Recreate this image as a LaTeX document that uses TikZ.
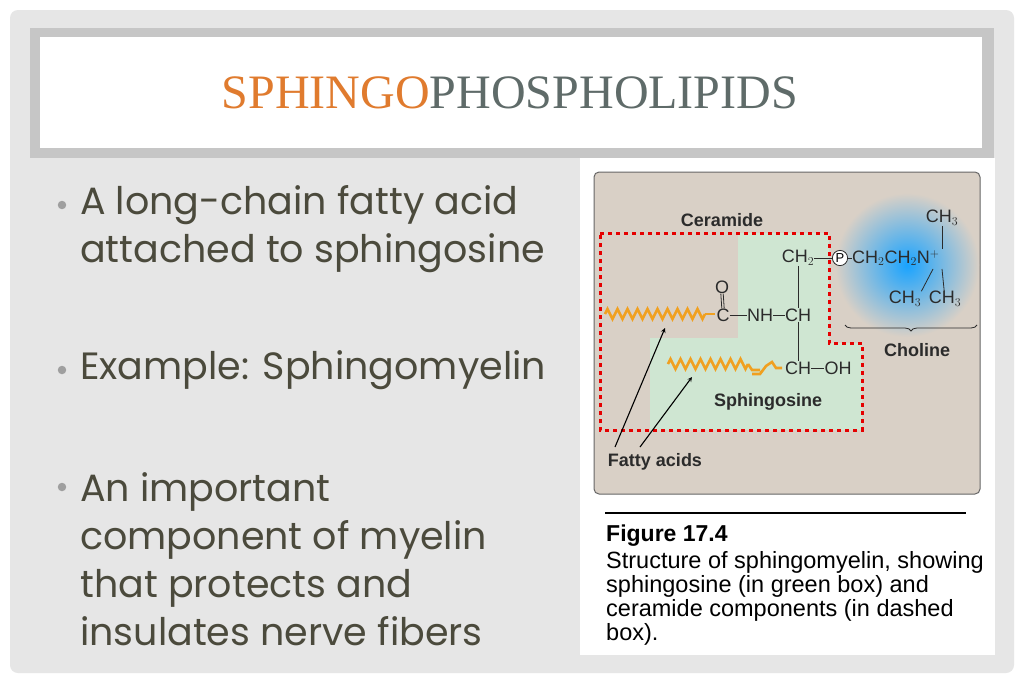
\documentclass[tikz,border=0pt]{standalone}
\usepackage{fontspec}
\setmainfont{Liberation Serif}
\newfontfamily\body{Poppins}
\newfontfamily\ars{Liberation Sans}
\usetikzlibrary{decorations.pathmorphing,decorations.pathreplacing,shadings}
\definecolor{bgg}{HTML}{E6E6E6}
\definecolor{ttl}{HTML}{E07B2E}
\definecolor{ttg}{HTML}{5F6B69}
\definecolor{bt}{HTML}{4B4A3C}
\definecolor{fig}{HTML}{D9D0C6}
\definecolor{grn}{HTML}{CFE6D2}
\definecolor{org}{HTML}{F0A020}
\definecolor{ink}{HTML}{2B2B2B}
\tikzset{
 bul/.style={anchor=west,font=\body\fontsize{38}{48}\selectfont,text=bt,align=left,inner sep=0},
 ft/.style={font=\ars\fontsize{18}{20}\selectfont,text=ink,inner sep=0},
 fb/.style={font=\ars\bfseries\fontsize{18}{20}\selectfont,text=ink,inner sep=0},
 zz/.style={org,line width=2.6pt,decorate,decoration={zigzag,segment length=10pt,amplitude=5pt}},
 bond/.style={ink,line width=0.8pt},
 arr/.style={->,>=stealth,line width=1.1pt,black}
}
\begin{document}
\begin{tikzpicture}[x=1pt,y=-1pt]
\useasboundingbox (0,0) rectangle (1024,683);
\fill[white] (0,0) rectangle (1024,683);
\fill[bgg,rounded corners=8] (10,10) rectangle (1014,673);
\fill[gray!45] (30,28) rectangle (994,158);
\fill[white] (40,37) rectangle (982,148);
\node (title) at (510,93) {\fontsize{48}{52}\selectfont\textcolor{ttl}{SPHINGO}\textcolor{ttg}{PHOSPHOLIPIDS}};
% bullets
\node[bul] (b1) at (80,229) {A long-chain fatty acid\\attached to sphingosine};
\node[bul] (b2) at (80,370) {Example: Sphingomyelin};
\node[bul] (b3) at (80,559) {An important\\component of myelin\\that protects and\\insulates nerve fibers};
\foreach \y/\n in {205/d1,370/d2,487/d3} \node[circle,fill=gray!75,inner sep=3pt] (\n) at (62,\y) {};
% figure panel
\fill[white] (580,158) rectangle (995,655);
\filldraw[fill=fig,draw=gray!80!black,line width=1pt,rounded corners=5] (594,172) rectangle (980,494);
\draw[line width=1.2pt] (605,513) -- (966,513);
\node[anchor=north west,inner sep=0,font=\ars\bfseries\fontsize{23}{24}\selectfont] (cap1) at (606,525) {Figure 17.4};
\node[anchor=north west,inner sep=0,align=left,font=\ars\fontsize{23.5}{24}\selectfont] (cap2) at (606,551) {Structure of sphingomyelin, showing\\sphingosine (in green box) and\\ceramide components (in dashed\\box).};
% green and glow
\fill[grn] (738,233) -- (829,233) -- (829,343) -- (862,343) -- (862,430) -- (650,430) -- (650,338) -- (738,338) -- cycle;
\begin{scope}
\clip (594,172) rectangle (979,494);
\shade[inner color=cyan!60!blue!90,outer color=fig] (907,265) circle (72);
\end{scope}
\draw[red!90!black,line width=3pt,dash pattern=on 4pt off 4pt] (600,233) -- (829,233) -- (829,343) -- (862,343) -- (862,430) -- (600,430) -- cycle;
\node[fb] (cer) at (722,220) {Ceramide};
\node[fb] (sph) at (768,402) {Sphingosine};
\node[fb] (cho) at (917,350) {Choline};
\node[fb] (fa) at (655,462) {Fatty acids};
% chemistry
\node[ft] (O) at (722,287) {O};
\node[ft] (C) at (723,315) {C};
\node[ft] (NH) at (760,315) {NH};
\node[ft] (CH1) at (798,315) {CH};
\node[ft] (CH2) at (798,258) {CH$_2$};
\node[ft] (CH3r) at (798,368) {CH};
\node[ft] (OH) at (838,368) {OH};
\node[circle,draw=ink,fill=white,line width=0.8pt,inner sep=1pt,font=\ars\fontsize{13}{13}\selectfont] (P) at (840,258) {P};
\node[ft,anchor=west] (chn) at (852,258) {CH$_2$CH$_2$N$^+$};
\node[ft] (me1) at (942,218) {CH$_3$};
\node[ft] (me2) at (905,299) {CH$_3$};
\node[ft] (me3) at (945,299) {CH$_3$};
\draw[bond] ([xshift=-1.2pt]O.south) -- ([xshift=-1.2pt]C.north);
\draw[bond] ([xshift=1.2pt]O.south) -- ([xshift=1.2pt]C.north);
\draw[bond] (C) -- (NH); \draw[bond] (NH) -- (CH1);
\draw[bond] (CH2) -- (CH1); \draw[bond] (CH1) -- (CH3r); \draw[bond] (CH3r) -- (OH);
\draw[bond] (CH2) -- (P); \draw[bond] (P) -- (chn);
\draw[bond] (me1) -- (942,249);
\draw[bond] (942,269) -- (me3);
\draw[bond] (933,269) -- (me2.north east);
\draw[decorate,decoration={brace,amplitude=6pt,mirror},line width=0.8pt,ink] (845,325) -- (977,325);
% fatty chains
\draw[zz] (605,314) -- (705,314);
\draw[org,line width=2.6pt] (705,314) -- (715,314);
\draw[zz] (668,364) -- (748,364);
\draw[org,line width=2.6pt] (748,364) -- (752,370) -- (760,370) (752,374) -- (760,374) -- (766,366) -- (772,362) -- (776,368) -- (782,368);
\coordinate (f1) at (615,447); \coordinate (f2) at (640,447);
\coordinate (t1) at (665,328); \coordinate (t2) at (692,377);
\draw[arr] (f1) -- (t1);
\draw[arr] (f2) -- (t2);
\end{tikzpicture}
\end{document}
